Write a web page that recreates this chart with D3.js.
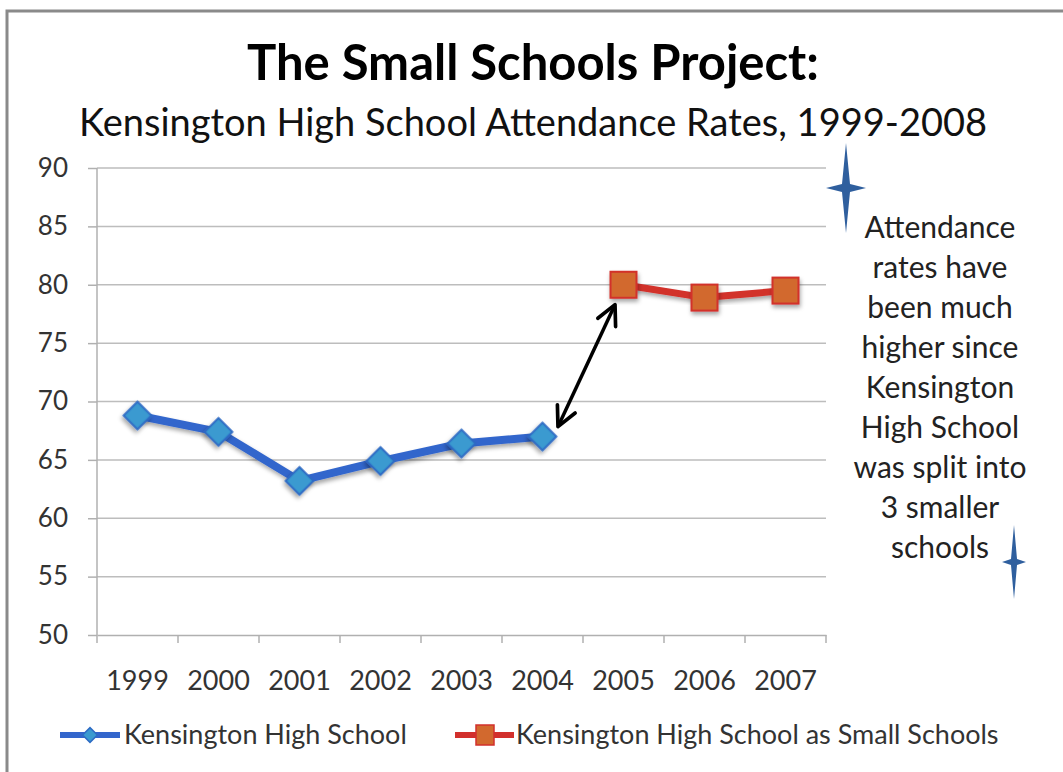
<!DOCTYPE html>
<html><head><meta charset="utf-8">
<script src="https://cdn.jsdelivr.net/npm/d3@7/dist/d3.min.js"></script>
<style>body{margin:0;background:#fff}svg{display:block}text{font-family:Lato,"Open Sans",sans-serif}</style>
</head><body>
<script>
const years = ["1999","2000","2001","2002","2003","2004","2005","2006","2007"];
const bigSchool = [
  {year:"1999", value:68.8},{year:"2000", value:67.4},{year:"2001", value:63.2},
  {year:"2002", value:64.9},{year:"2003", value:66.4},{year:"2004", value:67.0}
];
const smallSchools = [
  {year:"2005", value:80.0},{year:"2006", value:78.9},{year:"2007", value:79.5}
];
const yTicks = [50,55,60,65,70,75,80,85,90];
const seriesNames = ["Kensington High School","Kensington High School as Small Schools"];
const noteLines = ["Attendance","rates have","been much","higher since","Kensington","High School","was split into","3 smaller","schools"];

const W=1063,H=772;
const svg=d3.select("body").append("svg").attr("width",W).attr("height",H);
svg.append("defs").html(`
<filter id="sh" x="-50%" y="-50%" width="200%" height="200%"><feDropShadow dx="1" dy="3" stdDeviation="2" flood-color="#000" flood-opacity="0.35"/></filter>
<marker id="ah" viewBox="0 0 10 10" refX="8.5" refY="5" markerWidth="7" markerHeight="7" orient="auto-start-reverse"><path d="M1,1 L9,5 L1,9" fill="none" stroke="#000" stroke-width="1.5" stroke-linecap="round" stroke-linejoin="round"/></marker>`);

// frame
svg.append("path").attr("d","M7,772 L7,11 L1063,11").attr("fill","none").attr("stroke","#8a8a8a").attr("stroke-width",3);

const x=d3.scaleBand().domain(years).range([97,826]);
const y=d3.scaleLinear().domain([50,90]).range([635,168]);

// gridlines
svg.append("g").selectAll("line").data(yTicks.slice(1)).join("line")
  .attr("x1",97).attr("x2",826).attr("y1",d=>y(d)).attr("y2",d=>y(d))
  .attr("stroke","#bdbdbd").attr("stroke-width",1.5);

// y axis
const ya=svg.append("g").attr("transform","translate(97,0)").call(d3.axisLeft(y).tickValues(yTicks).tickSize(9).tickPadding(20));
ya.select(".domain").attr("stroke","#b0b0b0").attr("stroke-width",1.5).attr("d","M0,168V635");
ya.selectAll(".tick line").attr("stroke","#b0b0b0").attr("stroke-width",1.5);
ya.selectAll("text").attr("font-size",26).attr("fill","#333").attr("font-family","Lato,'Open Sans',sans-serif");

// x axis
const xa=svg.append("g").attr("transform","translate(0,635)").call(d3.axisBottom(x).tickSize(0).tickPadding(36));
xa.select(".domain").attr("stroke","#b0b0b0").attr("stroke-width",1.5);
xa.selectAll(".tick text").attr("font-size",27).attr("fill","#333").attr("font-family","Lato,'Open Sans',sans-serif");
xa.append("g").selectAll("line").data(years.map(d=>x(d)).concat([x(years[years.length-1])+x.bandwidth()])).join("line")
  .attr("x1",d=>d).attr("x2",d=>d).attr("y1",0).attr("y2",8).attr("stroke","#b0b0b0").attr("stroke-width",1.5);

const cx=d=>x(d.year)+x.bandwidth()/2;
const line=d3.line().x(cx).y(d=>y(d.value));

// blue series
svg.append("path").datum(bigSchool).attr("d",line).attr("fill","none").attr("stroke","#3366cc").attr("stroke-width",8).attr("stroke-linejoin","round").attr("filter","url(#sh)");
svg.append("g").selectAll("path").data(bigSchool).join("path")
  .attr("d",d3.symbol(d3.symbolSquare,380))
  .attr("transform",d=>`translate(${cx(d)},${y(d.value)}) rotate(45)`)
  .attr("fill","#3a9ad0").attr("stroke","#2e6bc4").attr("stroke-width",2).attr("filter","url(#sh)");

// red series
svg.append("path").datum(smallSchools).attr("d",line).attr("fill","none").attr("stroke","#d2302c").attr("stroke-width",7).attr("stroke-linejoin","round").attr("filter","url(#sh)");
svg.append("g").selectAll("rect").data(smallSchools).join("rect")
  .attr("x",d=>cx(d)-13).attr("y",d=>y(d.value)-13).attr("width",26).attr("height",26)
  .attr("fill","#d2692e").attr("stroke","#d2302c").attr("stroke-width",2).attr("filter","url(#sh)");

// arrow
svg.append("line").attr("x1",x("2004")+x.bandwidth()/2+16).attr("y1",y(67)-11)
  .attr("x2",x("2005")+x.bandwidth()/2-9).attr("y2",y(80)+21)
  .attr("stroke","#000").attr("stroke-width",3.5).attr("marker-start","url(#ah)").attr("marker-end","url(#ah)");

// titles
svg.append("text").attr("x",533).attr("y",80).attr("text-anchor","middle").attr("font-size",49).attr("font-weight","bold").attr("fill","#000").text("The Small Schools Project:");
svg.append("text").attr("x",533).attr("y",136).attr("text-anchor","middle").attr("font-size",38).attr("fill","#111").text("Kensington High School  Attendance Rates, 1999-2008");

// note
svg.append("g").selectAll("text").data(noteLines).join("text")
  .attr("x",940).attr("y",(d,i)=>238+i*40).attr("text-anchor","middle").attr("font-size",30).attr("fill","#222").text(d=>d);

// stars
function star(c0,r0,hw,hh,k){
  return `M${c0},${r0-hh} L${c0+k},${r0-k} L${c0+hw},${r0} L${c0+k},${r0+k} L${c0},${r0+hh} L${c0-k},${r0+k} L${c0-hw},${r0} L${c0-k},${r0-k}Z`;
}
svg.append("path").attr("d",star(846,188,20,45,4)).attr("fill","#2f5f9e");
svg.append("path").attr("d",star(1014,562,12,37,3)).attr("fill","#2f5f9e");

// legend
const lg=svg.append("g");
lg.append("line").attr("x1",60).attr("x2",120).attr("y1",735).attr("y2",735).attr("stroke","#3366cc").attr("stroke-width",6);
lg.append("path").attr("d",d3.symbol(d3.symbolSquare,110)).attr("transform","translate(90,735) rotate(45)").attr("fill","#3a9ad0").attr("stroke","#2e6bc4").attr("stroke-width",1.5);
lg.append("text").attr("x",124).attr("y",744).attr("font-size",27).attr("fill","#333").text(seriesNames[0]);
lg.append("line").attr("x1",455).attr("x2",514).attr("y1",735).attr("y2",735).attr("stroke","#d2302c").attr("stroke-width",6);
lg.append("rect").attr("x",476).attr("y",725).attr("width",18).attr("height",20).attr("fill","#d2692e").attr("stroke","#d2302c").attr("stroke-width",1.5);
lg.append("text").attr("x",516).attr("y",744).attr("font-size",27).attr("fill","#333").text(seriesNames[1]);
</script>
</body></html>
